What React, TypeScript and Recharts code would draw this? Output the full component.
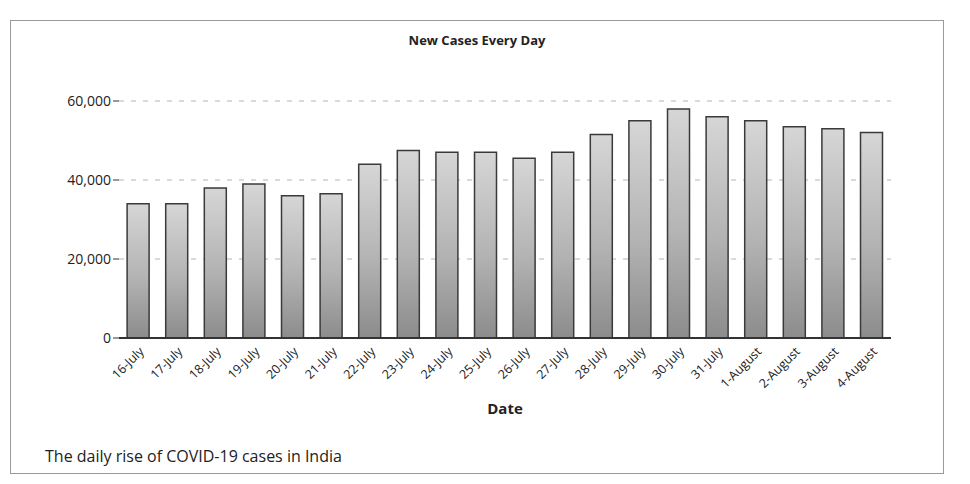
import { BarChart, Bar, XAxis, YAxis, CartesianGrid } from 'recharts';

const dates = [
  '16-July', '17-July', '18-July', '19-July', '20-July', '21-July', '22-July',
  '23-July', '24-July', '25-July', '26-July', '27-July', '28-July', '29-July',
  '30-July', '31-July', '1-August', '2-August', '3-August', '4-August',
];

const newCases = [
  34000, 34000, 38000, 39000, 36000, 36500, 44000, 47500, 47000, 47000,
  45500, 47000, 51500, 55000, 58000, 56000, 55000, 53500, 53000, 52000,
];

const yTicks = [0, 20000, 40000, 60000];

const data = dates.map((date, i) => ({ date, cases: newCases[i] }));

const font = '"Open Sans", "Liberation Sans", sans-serif';

export default function App() {
  return (
    <div style={{ position: 'relative', width: 970, height: 484, background: '#fff', fontFamily: font }}>
      <style>{`body{margin:0}`}</style>
      <div
        style={{
          position: 'absolute',
          left: 10,
          top: 20,
          width: 932,
          height: 452,
          border: '1px solid #9a9a9a',
        }}
      >
        <div
          style={{
            position: 'absolute',
            top: 10,
            left: 0,
            width: 932,
            textAlign: 'center',
            fontSize: 13,
            fontWeight: 700,
            color: '#222',
          }}
        >
          New Cases Every Day
        </div>
        <BarChart
          width={932}
          height={400}
          data={data}
          margin={{ top: 80, right: 52, bottom: 5, left: 32 }}
          barCategoryGap="21%"
        >
          <defs>
            <linearGradient id="barFill" x1="0" y1="0" x2="0" y2="1">
              <stop offset="0%" stopColor="#d6d6d6" />
              <stop offset="55%" stopColor="#b3b3b3" />
              <stop offset="100%" stopColor="#8c8c8c" />
            </linearGradient>
          </defs>
          <CartesianGrid vertical={false} stroke="#b4b4b4" strokeDasharray="5 7" />
          <XAxis
            dataKey="date"
            interval={0}
            height={78}
            angle={-45}
            textAnchor="end"
            tickLine={false}
            axisLine={{ stroke: '#333', strokeWidth: 2 }}
            tick={{ fontSize: 12.5, fill: '#222', fontFamily: font }}
            label={{ value: 'Date', position: 'insideBottom', offset: 2, fontSize: 15, fontWeight: 700, fill: '#222', fontFamily: font }}
          />
          <YAxis
            domain={[0, 60000]}
            ticks={yTicks}
            width={76}
            axisLine={false}
            tickLine={{ stroke: '#333' }}
            tickSize={6}
            tickFormatter={(v: number) => v.toLocaleString('en-US')}
            tick={{ fontSize: 14, fill: '#222', fontFamily: font }}
          />
          <Bar dataKey="cases" fill="url(#barFill)" stroke="#3a3a3a" strokeWidth={1.5} isAnimationActive={false} />
        </BarChart>
        <div style={{ position: 'absolute', left: 34, top: 424, fontSize: 16, color: '#222' }}>
          The daily rise of COVID-19 cases in India
        </div>
      </div>
    </div>
  );
}
